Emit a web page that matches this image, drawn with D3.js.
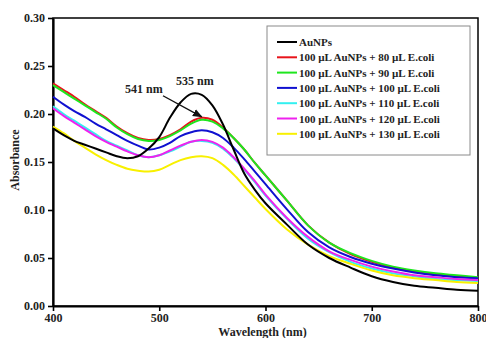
<!DOCTYPE html>
<html>
<head>
<meta charset="utf-8">
<script src="https://cdn.jsdelivr.net/npm/d3@7"></script>
<style>
	body { margin: 0; background: #fff; }
	text { font-family: "Liberation Serif", "Times New Roman", serif; font-weight: bold; }
</style>
</head>
<body>
<div id="chart-area"></div>
<script>

// DATA

let wavelengths = [400,410,420,430,440,450,460,470,480,490,500,510,520,530,540,550,560,570,580,590,600,620,640,660,680,700,720,740,760,780,800];

let auNPs  = [.185,.178,.172,.168,.164,.160,.156,.154,.156,.164,.176,.196,.212,.221,.220,.209,.189,.163,.138,.121,.107,.085,.064,.050,.040,.031,.025,.021,.019,.017,.016];
let eColi80  = [.232,.225,.218,.210,.203,.196,.187,.180,.175,.173,.174,.178,.184,.192,.196,.194,.186,.175,.163,.149,.136,.110,.084,.066,.054,.046,.040,.036,.033,.031,.029];
let eColi90  = [.230,.223,.216,.209,.202,.195,.186,.179,.174,.172,.173,.177,.183,.190,.194,.192,.185,.175,.163,.149,.136,.110,.084,.066,.055,.047,.041,.037,.034,.032,.030];
let eColi100 = [.218,.210,.203,.197,.190,.184,.178,.172,.167,.163,.165,.170,.177,.181,.183,.181,.175,.165,.153,.140,.127,.101,.077,.061,.051,.044,.039,.035,.032,.030,.029];
let eColi110 = [.208,.200,.193,.186,.179,.172,.167,.162,.157,.155,.157,.161,.166,.171,.172,.170,.164,.154,.142,.129,.115,.091,.070,.056,.046,.039,.034,.031,.028,.027,.026];
let eColi120 = [.206,.198,.191,.184,.177,.171,.166,.161,.157,.155,.157,.162,.167,.171,.173,.171,.165,.155,.143,.130,.116,.092,.072,.057,.048,.041,.036,.032,.030,.028,.027];
let eColi130 = [.187,.180,.172,.165,.158,.152,.147,.143,.141,.140,.142,.147,.152,.155,.156,.154,.147,.137,.125,.113,.101,.080,.064,.052,.044,.037,.032,.029,.027,.025,.024];

let seriesNames = ["AuNPs",
	"100 \u00b5L AuNPs + 80 \u00b5L E.coli",
	"100 \u00b5L AuNPs + 90 \u00b5L E.coli",
	"100 \u00b5L AuNPs + 100 \u00b5L E.coli",
	"100 \u00b5L AuNPs + 110 \u00b5L E.coli",
	"100 \u00b5L AuNPs + 120 \u00b5L E.coli",
	"100 \u00b5L AuNPs + 130 \u00b5L E.coli"];
let seriesValues = [auNPs, eColi80, eColi90, eColi100, eColi110, eColi120, eColi130];
let seriesColors = ["#000000", "#e8141b", "#1ee61e", "#1010d0", "#33f0f0", "#ee22ee", "#f8f000"];

let xTicks = [400, 500, 600, 700, 800];
let yTicks = [0, 0.05, 0.10, 0.15, 0.20, 0.25, 0.30];

// peak annotations
let peakLabels = [{text: "541 nm", wl: 485.5, a: 0.222}, {text: "535 nm", wl: 533.5, a: 0.230}];
let arrowFrom = {wl: 503.5, a: 0.219},
	arrowTo = {wl: 540, a: 0.197};


// CHART AREA

let margin = {top: 18, right: 8, bottom: 32, left: 53},
	width = 486 - margin.left - margin.right,
	height = 338 - margin.top - margin.bottom;

let svg = d3.select("#chart-area").append("svg")
	.attr("width", width + margin.left + margin.right)
	.attr("height", height + margin.top + margin.bottom)
	.append("g")
	.attr("transform", "translate(" + margin.left + "," + margin.top + ")");

let xScale = d3.scaleLinear()
	.domain([400, 800])
	.range([0, width]);

let yScale = d3.scaleLinear()
	.domain([0, 0.30])
	.range([height, 0]);

// frame
svg.append("rect")
	.attr("width", width)
	.attr("height", height)
	.attr("fill", "none")
	.attr("stroke", "#000")
	.attr("stroke-width", 1.5);

// AXIS
let xAxis = d3.axisBottom(xScale)
	.tickValues(xTicks)
	.tickFormat(d3.format("d"))
	.tickSize(5)
	.tickSizeOuter(0)
	.tickPadding(2);

let yAxis = d3.axisLeft(yScale)
	.tickValues(yTicks)
	.tickFormat(d3.format(".2f"))
	.tickSize(5)
	.tickSizeOuter(0)
	.tickPadding(3);

let xAxisGroup = svg.append("g")
	.attr("class", "x-axis axis")
	.attr("transform", "translate(0," + height + ")")
	.call(xAxis);

let yAxisGroup = svg.append("g")
	.attr("class", "y-axis axis")
	.call(yAxis);

svg.selectAll(".axis path").attr("stroke-width", 2.2);
svg.selectAll(".axis line").attr("stroke-width", 1.6);
svg.selectAll(".axis text")
	.style("font-family", "'Liberation Serif', serif")
	.style("font-weight", "bold")
	.style("font-size", "12px")
	.attr("fill", "#222");

svg.append("text")
	.attr("class", "axis-title")
	.attr("x", width / 2 - 3)
	.attr("y", height + 29.5)
	.style("text-anchor", "middle")
	.style("font-size", "12px")
	.attr("fill", "#222")
	.text("Wavelength (nm)");

svg.append("text")
	.attr("class", "axis-title")
	.attr("transform", "rotate(-90)")
	.attr("x", -height / 2 + 2)
	.attr("y", -34)
	.style("text-anchor", "middle")
	.style("font-size", "12px")
	.attr("fill", "#222")
	.text("Absorbance");


// ---- DRAW LINES ----
let line = d3.line()
	.x((d, i) => xScale(wavelengths[i]))
	.y(d => yScale(d))
	.curve(d3.curveCatmullRom.alpha(0.5));

// draw the black reference last so it sits on top, like the original
let drawOrder = [1, 2, 3, 4, 5, 6, 0];

svg.selectAll(".spectrum")
	.data(drawOrder)
	.enter()
	.append("path")
	.attr("class", "spectrum")
	.attr("d", i => line(seriesValues[i]))
	.attr("fill", "none")
	.attr("stroke", i => seriesColors[i])
	.attr("stroke-width", 2)
	.attr("stroke-linejoin", "round");


// ---- ANNOTATIONS ----
svg.append("defs").append("marker")
	.attr("id", "arrow")
	.attr("viewBox", "0 0 10 10")
	.attr("refX", 9)
	.attr("refY", 5)
	.attr("markerWidth", 7)
	.attr("markerHeight", 7)
	.attr("orient", "auto")
	.append("path")
	.attr("d", "M0,1L10,5L0,9z")
	.attr("fill", "#111");

svg.append("line")
	.attr("x1", xScale(arrowFrom.wl))
	.attr("y1", yScale(arrowFrom.a))
	.attr("x2", xScale(arrowTo.wl))
	.attr("y2", yScale(arrowTo.a))
	.attr("stroke", "#111")
	.attr("stroke-width", 1.4)
	.attr("marker-end", "url(#arrow)");

svg.selectAll(".peak-label")
	.data(peakLabels)
	.enter()
	.append("text")
	.attr("class", "peak-label")
	.attr("x", d => xScale(d.wl))
	.attr("y", d => yScale(d.a))
	.style("text-anchor", "middle")
	.style("font-size", "12px")
	.attr("fill", "#222")
	.text(d => d.text);


// ---- LEGEND ----
let legend = svg.append("g")
	.attr("class", "legend")
	.attr("transform", "translate(" + (267 - margin.left) + "," + (26 - margin.top) + ")");

legend.append("rect")
	.attr("width", 203)
	.attr("height", 129)
	.attr("fill", "#fff")
	.attr("stroke", "#8a8a8a")
	.attr("stroke-width", 1);

let rows = legend.selectAll(".legend-row")
	.data(seriesNames)
	.enter()
	.append("g")
	.attr("class", "legend-row")
	.attr("transform", (d, i) => "translate(0," + (16 + i * 15.3) + ")");

rows.append("line")
	.attr("x1", 10)
	.attr("x2", 30)
	.attr("stroke", (d, i) => seriesColors[i])
	.attr("stroke-width", 2);

rows.append("text")
	.attr("x", 32)
	.attr("y", 4)
	.style("font-size", "11px")
	.attr("fill", "#222")
	.text(d => d);

</script>
</body>
</html>
